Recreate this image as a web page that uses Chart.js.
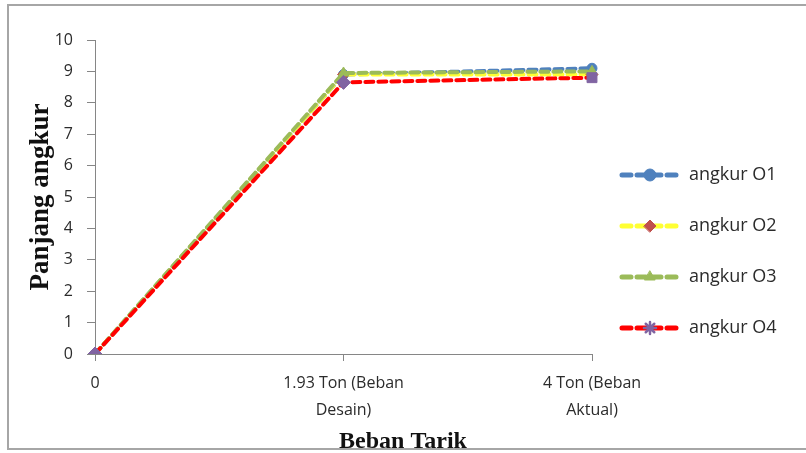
<!DOCTYPE html>
<html>
<head>
<meta charset="utf-8">
<script src="https://cdn.jsdelivr.net/npm/chart.js@4"></script>
<style>
  html, body { margin: 0; padding: 0; background: #fff; }
  #wrap { position: relative; width: 806px; height: 453px; overflow: hidden; }
  #frame { position: absolute; left: 7px; top: 4px; width: 820px; height: 442px;
           border: 2px solid #a6a6a6; pointer-events: none; }
  #cut { position: absolute; left: 0; top: 450px; width: 806px; height: 3px; background: #fff; }
</style>
</head>
<body>
<div id="wrap">
  <canvas id="c" width="806" height="453"></canvas>
  <div id="cut"></div>
  <div id="frame"></div>
</div>
<script>
// Load levels on the x axis
const categories = ['0', ['1.93 Ton (Beban', 'Desain)'], ['4 Ton (Beban', 'Aktual)']];
// Anchor length readings
const angkurO1 = [0, 8.9, 9.1];
const angkurO2 = [0, 8.9, 8.9];
const angkurO3 = [0, 8.95, 9.0];
const angkurO4 = [0, 8.65, 8.8];
const seriesNames = ['angkur O1', 'angkur O2', 'angkur O3', 'angkur O4'];
const xTitle = 'Beban Tarik';
const yTitle = 'Panjang angkur';

const lineColors = ['#4F81BD', '#FFFF33', '#9BBB59', '#FF0000'];
const markerColors = ['#4F81BD', '#C0504D', '#9BBB59', '#8064A2'];
const markerStyles = ['circle', 'rectRot', 'triangle', ['rectRot', 'rectRot', 'rect']];
const legendMarkers = ['circle', 'rectRot', 'triangle', 'star'];
const markerRadius = [5, 6, 6, 7];

const values = [angkurO1, angkurO2, angkurO3, angkurO4];

const datasets = values.map((v, i) => ({
  label: seriesNames[i],
  data: v,
  borderColor: lineColors[i],
  borderWidth: 4,
  borderDash: [8, 5],
  borderCapStyle: 'round',
  pointStyle: markerStyles[i],
  pointRadius: markerRadius[i],
  pointBackgroundColor: markerColors[i],
  pointBorderColor: markerColors[i],
  pointBorderWidth: 1,
  tension: 0,
  fill: false,
  order: 4 - i
}));

const tickFont = '"Open Sans", "Liberation Sans", sans-serif';

// Legend to the right of the plot (dashed sample + marker) and the x axis title
const extras = {
  id: 'extras',
  afterDraw(chart) {
    const ctx = chart.ctx;
    const x0 = 622, x1 = 678, tx = 689;
    const ys = [175, 226, 277, 328];
    ctx.save();
    chart.data.datasets.forEach((ds, i) => {
      const y = ys[i];
      ctx.strokeStyle = ds.borderColor;
      ctx.lineWidth = 5;
      ctx.lineCap = 'round';
      ctx.setLineDash([9, 6]);
      ctx.beginPath();
      ctx.moveTo(x0, y);
      ctx.lineTo(x1, y);
      ctx.stroke();
      ctx.setLineDash([]);
      ctx.fillStyle = ds.pointBackgroundColor;
      ctx.strokeStyle = ds.pointBorderColor;
      ctx.lineWidth = legendMarkers[i] === 'star' ? 2.5 : 1;
      Chart.helpers.drawPoint(ctx, { pointStyle: legendMarkers[i], radius: 6, borderWidth: 1 }, (x0 + x1) / 2, y);
      ctx.fillStyle = '#2b2b2b';
      ctx.font = '18px ' + tickFont;
      ctx.textBaseline = 'middle';
      ctx.textAlign = 'left';
      ctx.fillText(ds.label, tx, y);
    });
    ctx.fillStyle = '#111';
    ctx.font = 'bold 24px "Liberation Serif", "DejaVu Serif", serif';
    ctx.textAlign = 'center';
    ctx.textBaseline = 'alphabetic';
    ctx.fillText(xTitle, 403, 448);
    ctx.restore();
  }
};

new Chart(document.getElementById('c'), {
  type: 'line',
  data: { labels: categories, datasets },
  plugins: [extras],
  options: {
    responsive: false,
    animation: false,
    layout: { padding: { left: 10, right: 214, top: 40, bottom: 0 } },
    plugins: { legend: { display: false }, tooltip: { enabled: false } },
    scales: {
      x: {
        offset: false,
        afterFit(s) { s.height = 99; },
        grid: { drawOnChartArea: false, color: '#868686', tickLength: 7, offset: false },
        border: { color: '#868686', width: 1 },
        ticks: {
          color: '#2b2b2b',
          padding: 9,
          maxRotation: 0,
          autoSkip: false,
          font: { family: tickFont, size: 16, lineHeight: 1.7 }
        }
      },
      y: {
        min: 0,
        max: 10,
        afterFit(s) { s.width = 85; },
        grid: { drawOnChartArea: false, color: '#868686', tickLength: 8 },
        border: { color: '#868686', width: 1 },
        ticks: {
          stepSize: 1,
          color: '#2b2b2b',
          padding: 14,
          font: { family: tickFont, size: 16 }
        },
        title: {
          display: true,
          text: yTitle,
          color: '#111',
          padding: { top: 16, bottom: 0 },
          font: { family: '"Liberation Serif", "DejaVu Serif", serif', size: 27, weight: 'bold', lineHeight: 1.1 }
        }
      }
    }
  }
});
</script>
</body>
</html>
